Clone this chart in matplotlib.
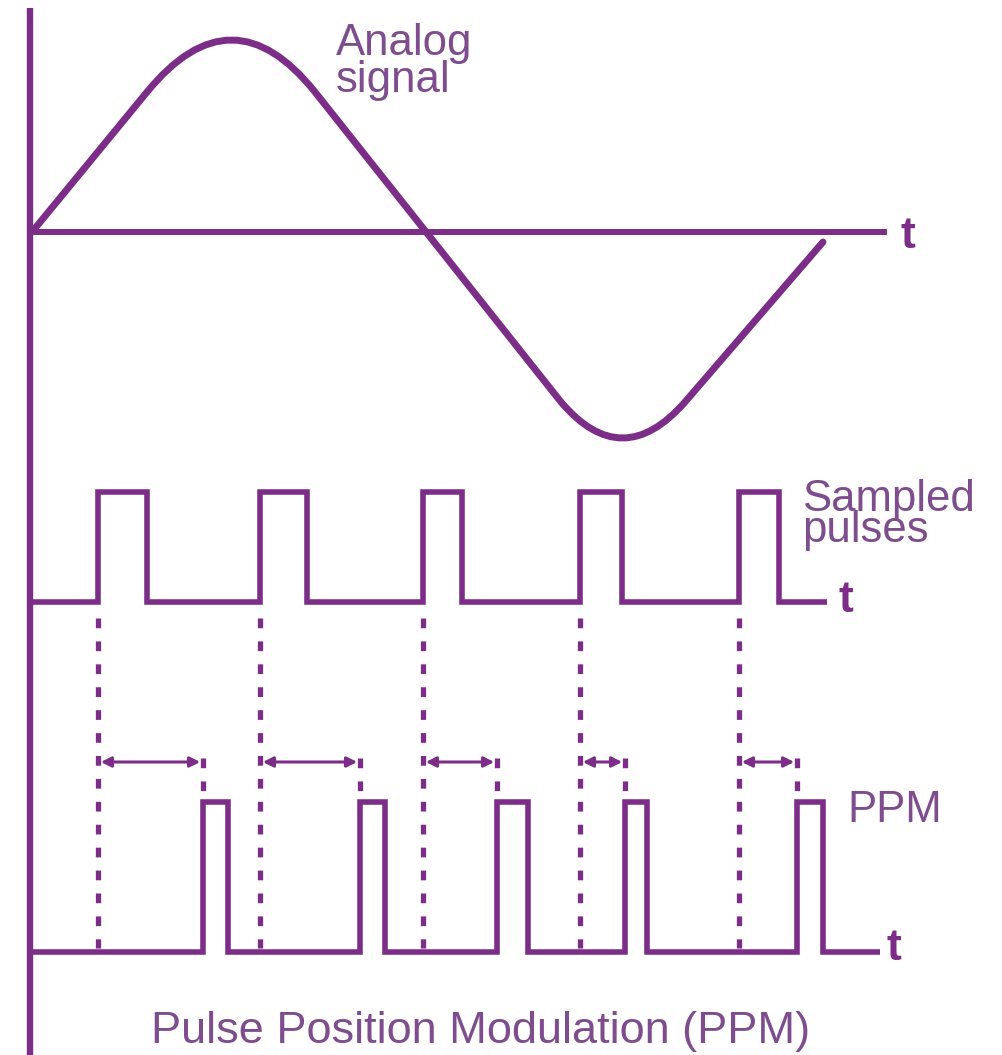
import matplotlib.pyplot as plt
from matplotlib.path import Path
from matplotlib.patches import PathPatch

plt.rcParams['font.family'] = ['Liberation Sans', 'DejaVu Sans']
plt.rcParams['lines.scale_dashes'] = False

line_col = '#7B2D87'
text_col = '#7E4D8E'

# diagram drawn in pixel units (x = time, y = level, y grows downward)
axis_x = 30
axis_top = 8
t_axis_y = 232
t_axis_end = 887

# analog signal: straight flanks with rounded peak / trough
analog_x = [32, 147, 232, 315, 561, 622, 685, 823]
analog_y = [232, 92, -12, 92, 402, 474, 402, 242]
analog_codes = [Path.MOVETO, Path.LINETO, Path.CURVE3, Path.CURVE3,
                Path.LINETO, Path.CURVE3, Path.CURVE3, Path.LINETO]

# sampled pulses
sample_base = 602
sample_top = 492
sample_end = 827
sample_rise = [98, 260, 423, 580, 739]
sample_fall = [147, 307, 462, 622, 779]

# PPM pulses
ppm_base = 952
ppm_top = 802
ppm_end = 880
ppm_rise = [203, 360, 497, 625, 797]
ppm_fall = [228, 385, 528, 647, 823]
arrow_y = 762


def pulse_train(start, end, base, top, rise, fall):
    xs = [start]
    ys = [base]
    for r, f in zip(rise, fall):
        xs += [r, r, f, f]
        ys += [base, top, top, base]
    xs.append(end)
    ys.append(base)
    return xs, ys


fig = plt.figure(figsize=(10.02, 10.55), dpi=100)
ax = fig.add_axes([0, 0, 1, 1])
ax.set_xlim(0, 1002)
ax.set_ylim(1055, 0)
ax.axis('off')

# axes
ax.plot([axis_x, axis_x], [axis_top, 1060], color=line_col, lw=4.6, solid_capstyle='butt')
ax.plot([axis_x, t_axis_end], [t_axis_y, t_axis_y], color=line_col, lw=4.3, solid_capstyle='butt')

# analog signal
sig = Path(list(zip(analog_x, analog_y)), analog_codes)
ax.add_patch(PathPatch(sig, fill=False, edgecolor=line_col, lw=5, capstyle='round', joinstyle='round'))

# sampled pulses
xs, ys = pulse_train(axis_x, sample_end, sample_base, sample_top, sample_rise, sample_fall)
ax.plot(xs, ys, color=line_col, lw=4, solid_joinstyle='miter', solid_capstyle='butt')

# PPM
xs, ys = pulse_train(axis_x, ppm_end, ppm_base, ppm_top, ppm_rise, ppm_fall)
ax.plot(xs, ys, color=line_col, lw=4, solid_joinstyle='miter', solid_capstyle='butt')

# dotted guides
for r in sample_rise:
    ax.plot([r, r], [sample_base + 16, ppm_base - 4], color=line_col, lw=3.8,
            dashes=(7, 9.5), solid_capstyle='butt')
for r in ppm_rise:
    ax.plot([r, r], [arrow_y - 4, ppm_top - 6], color=line_col, lw=3.8,
            dashes=(7, 9.5), solid_capstyle='butt')

# arrows
for r, p in zip(sample_rise, ppm_rise):
    ax.annotate('', xy=(p, arrow_y), xytext=(r, arrow_y),
                arrowprops=dict(arrowstyle='<|-|>,head_length=0.6,head_width=0.3',
                                color=line_col, lw=2.2, shrinkA=2, shrinkB=2))

# labels
lab = dict(color=text_col, fontsize=31.5, ha='left', va='baseline')
ax.text(336, 92, 'Analog\nsignal', linespacing=0.86, **lab)
ax.text(802, 542, 'Sampled\npulses', linespacing=0.68, **lab)
ax.text(847, 822, 'PPM', **lab)
tl = dict(color=line_col, fontsize=32, fontweight='bold', ha='left', va='center')
ax.text(t_axis_end + 14, t_axis_y + 4, 't', **tl)
ax.text(sample_end + 12, sample_base - 2, 't', **tl)
ax.text(ppm_end + 7, ppm_base - 4, 't', **tl)
ax.text(481, 1043, 'Pulse Position Modulation (PPM)', color=text_col, fontsize=32.5,
        ha='center', va='baseline')

fig.savefig('out.png', dpi=100, facecolor='white')
